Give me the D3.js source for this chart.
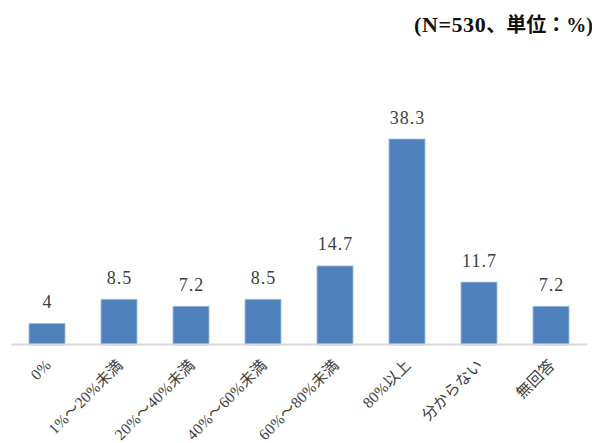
<!DOCTYPE html>
<html lang="ja">
<head>
<meta charset="utf-8">
<script src="https://cdn.jsdelivr.net/npm/d3@7"></script>
<style>
  html, body { margin: 0; padding: 0; background: #fff; }
  svg { display: block; }
</style>
</head>
<body>
<svg id="chart" width="592" height="443"></svg>
<script>
// Survey response shares (%)
const categories = ["0%", "1%～20%未満", "20%～40%未満", "40%～60%未満", "60%～80%未満", "80%以上", "分からない", "無回答"];
const values = [4, 8.5, 7.2, 8.5, 14.7, 38.3, 11.7, 7.2];
const valueLabels = ["4", "8.5", "7.2", "8.5", "14.7", "38.3", "11.7", "7.2"];
const noteLatin = "(N=530";
const noteJapanese = "、単位：%)";

const svg = d3.select("#chart");
const serif = "'Liberation Serif', 'Noto Sans CJK JP', serif";

const x = d3.scaleBand()
  .domain(categories)
  .range([11, 587])
  .paddingInner(0.5)
  .paddingOuter(0.25);

const y = d3.scaleLinear()
  .domain([0, 45])
  .range([345, 103]);

// bars
svg.append("g")
  .selectAll("rect")
  .data(values)
  .join("rect")
  .attr("x", (d, i) => x(categories[i]))
  .attr("y", d => y(d))
  .attr("width", x.bandwidth())
  .attr("height", d => y(0) - y(d))
  .attr("fill", "#4f81bd")
  .attr("stroke", "#9fbde3")
  .attr("stroke-width", 0.8);

// baseline axis
const xAxis = d3.axisBottom(x).tickSize(0).tickFormat("");
const axisG = svg.append("g")
  .attr("transform", `translate(0,${y(0) - 1})`)
  .call(xAxis);
axisG.select(".domain")
  .attr("stroke", "#d9d9d9")
  .attr("stroke-width", 2);

// value labels above bars
svg.append("g")
  .selectAll("text")
  .data(values)
  .join("text")
  .attr("x", (d, i) => x(categories[i]) + x.bandwidth() / 2 + 0.5)
  .attr("y", d => y(d) - 15.5)
  .attr("text-anchor", "middle")
  .attr("font-family", serif)
  .attr("font-size", 18)
  .attr("letter-spacing", 1)
  .attr("fill", "#404040")
  .text((d, i) => valueLabels[i]);

// rotated category labels
svg.append("g")
  .selectAll("text")
  .data(categories)
  .join("text")
  .attr("transform", d => `translate(${x(d) + x.bandwidth() / 2 + 5},366) rotate(-45)`)
  .attr("text-anchor", "end")
  .attr("font-family", serif)
  .attr("font-size", 15.5)
  .attr("letter-spacing", 0.3)
  .attr("fill", "#404040")
  .text(d => d);

// sample-size / unit note
const note = svg.append("text")
  .attr("x", 593)
  .attr("y", 32)
  .attr("text-anchor", "end")
  .attr("font-family", serif)
  .attr("font-weight", "bold")
  .attr("fill", "#111");
note.append("tspan").attr("font-size", 22).attr("letter-spacing", 0.6).text(noteLatin);
note.append("tspan").attr("font-size", 20).text(noteJapanese);
</script>
</body>
</html>
